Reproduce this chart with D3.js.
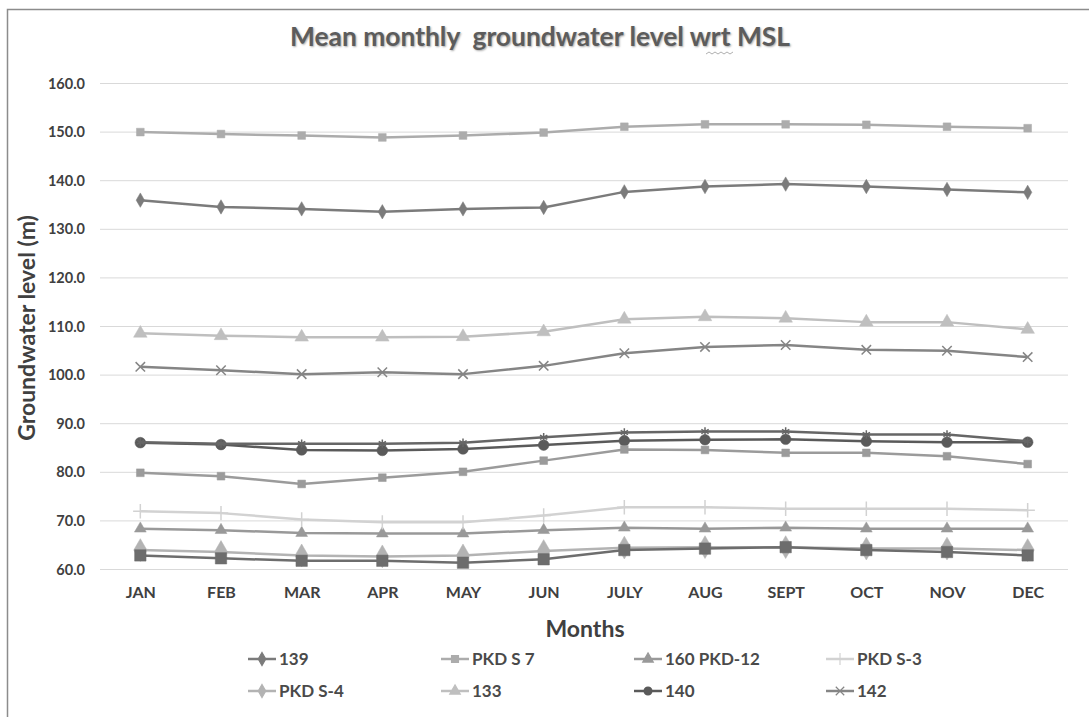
<!DOCTYPE html>
<html><head><meta charset="utf-8">
<script src="https://cdn.jsdelivr.net/npm/d3@7"></script>
<style>
html,body{margin:0;padding:0;background:#fff;}
svg{display:block;font-family:Lato,"Open Sans",sans-serif;}
</style></head>
<body>
<svg id="chart" width="1089" height="717"></svg>
<script>
const months = ["JAN","FEB","MAR","APR","MAY","JUN","JULY","AUG","SEPT","OCT","NOV","DEC"];
const yTicks = [60,70,80,90,100,110,120,130,140,150,160];

const s139     = [136.0,134.6,134.2,133.6,134.2,134.5,137.7,138.8,139.3,138.8,138.2,137.6];
const sPKDS7   = [150.0,149.6,149.3,148.9,149.3,149.9,151.1,151.6,151.6,151.5,151.1,150.8];
const s160PKD12= [68.4,68.1,67.5,67.4,67.4,68.1,68.6,68.4,68.6,68.4,68.4,68.4];
const sPKDS3   = [72.0,71.6,70.3,69.7,69.7,71.1,72.8,72.8,72.5,72.5,72.5,72.2];
const sPKDS4   = [64.0,63.6,62.9,62.7,62.9,63.8,64.5,64.6,64.6,64.3,64.3,64.0];
const s133     = [108.6,108.1,107.8,107.8,107.9,108.9,111.5,112.0,111.7,110.9,110.9,109.4];
const s140     = [86.1,85.7,84.6,84.5,84.8,85.6,86.5,86.7,86.8,86.4,86.2,86.2];
const s142     = [101.7,101.0,100.2,100.6,100.2,101.9,104.5,105.8,106.2,105.2,105.0,103.7];
// series drawn in the plot whose legend entries are cut off in the reference
const sExtraA  = [86.2,85.9,85.9,85.9,86.1,87.2,88.2,88.4,88.4,87.8,87.8,86.4];
const sExtraB  = [79.9,79.2,77.6,78.9,80.1,82.4,84.7,84.6,84.0,84.0,83.3,81.7];
const sExtraC  = [62.9,62.3,61.8,61.8,61.4,62.1,64.0,64.3,64.6,64.0,63.6,62.9];

const seriesNames = ["139","PKD S 7","160 PKD-12","PKD S-3","PKD S-4","133","140","142","extra A","extra B","extra C"];
const seriesValues = [s139,sPKDS7,s160PKD12,sPKDS3,sPKDS4,s133,s140,s142,sExtraA,sExtraB,sExtraC];
const legendCount = 8;

const styles = [
  {color:"#7b7b7b", marker:"diamond", size:60},
  {color:"#acacac", marker:"square", size:60},
  {color:"#999999", marker:"triangle", size:60},
  {color:"#d2d2d2", marker:"plus", size:70},
  {color:"#b3b3b3", marker:"diamond", size:150},
  {color:"#bfbfbf", marker:"triangle", size:80},
  {color:"#5a5a5a", marker:"circle", size:90},
  {color:"#858585", marker:"x", size:60},
  {color:"#666666", marker:"asterisk", size:50},
  {color:"#9b9b9b", marker:"square", size:60},
  {color:"#6d6d6d", marker:"square", size:130}
];

const svg = d3.select("#chart");
const x = d3.scalePoint().domain(months).range([100,1068]).padding(0.5);
const y = d3.scaleLinear().domain([60,160]).range([569.5,83.5]);

// border (left and top visible)
svg.append("path").attr("d","M7.5,717 L7.5,9.5 L1089,9.5").attr("fill","none").attr("stroke","#8c8c8c").attr("stroke-width",1.5);

// gridlines
svg.append("g").selectAll("line").data(yTicks).join("line")
  .attr("x1",100).attr("x2",1068).attr("y1",d=>y(d)).attr("y2",d=>y(d))
  .attr("stroke","#d9d9d9").attr("stroke-width",1);

// y axis labels
const yAxis = d3.axisLeft(y).tickValues(yTicks).tickFormat(d3.format(".1f")).tickSize(0).tickPadding(0);
const gy = svg.append("g").attr("transform","translate(85,0)").call(yAxis);
gy.select(".domain").remove();
gy.selectAll("text").attr("font-size",14.5).attr("font-weight","bold").attr("fill","#404040").attr("font-family","Lato,sans-serif");

// x axis labels
const xAxis = d3.axisBottom(x).tickSize(0).tickPadding(0);
const gx = svg.append("g").attr("transform","translate(0,587)").call(xAxis);
gx.select(".domain").remove();
gx.selectAll("text").attr("font-size",16).attr("font-weight","bold").attr("fill","#404040").attr("font-family","Lato,sans-serif");

// title
svg.append("text").attr("x",540).attr("y",46).attr("text-anchor","middle")
  .attr("font-size",26).attr("font-weight","bold").attr("fill","#5c5c5c")
  .attr("textLength",500).attr("lengthAdjust","spacingAndGlyphs")
  .attr("style","text-shadow:1px 1px 2px #aaa")
  .attr("xml:space","preserve")
  .text("Mean monthly  groundwater level wrt MSL");
// spell-check squiggle under "wrt"
svg.append("path").attr("d",d3.range(0,30,3).map((d,i)=>`${i?"L":"M"}${706+d},${i%2?52:54}`).join(""))
  .attr("fill","none").attr("stroke","#9a9a9a").attr("stroke-width",0.8);

// axis titles
svg.append("text").attr("transform","translate(35,328) rotate(-90)").attr("text-anchor","middle")
  .attr("font-size",23).attr("font-weight","bold").attr("fill","#404040").text("Groundwater level (m)");
svg.append("text").attr("x",585).attr("y",637).attr("text-anchor","middle")
  .attr("font-size",23).attr("font-weight","bold").attr("fill","#404040").text("Months");

function markerPath(type,size){
  const map = {diamond:d3.symbolDiamond,square:d3.symbolSquare,triangle:d3.symbolTriangle,
    circle:d3.symbolCircle,x:d3.symbolX,asterisk:d3.symbolAsterisk,plus:d3.symbolPlus};
  return d3.symbol().type(map[type]).size(size)();
}
const strokeMarkers = new Set(["x","asterisk","plus"]);

const line = d3.line().x((d,i)=>x(months[i])).y(d=>y(d));
const plot = svg.append("g");
seriesValues.forEach((vals,k)=>{
  const st = styles[k];
  const g = plot.append("g");
  g.append("path").attr("d",line(vals)).attr("fill","none").attr("stroke",st.color).attr("stroke-width",2.5).attr("stroke-linejoin","round");
  g.selectAll("path.m").data(vals).join("path").attr("class","m")
    .attr("transform",(d,i)=>`translate(${x(months[i])},${y(d)})`)
    .attr("d",markerPath(st.marker,st.size))
    .attr("fill",strokeMarkers.has(st.marker)?"none":st.color)
    .attr("stroke",st.color).attr("stroke-width",strokeMarkers.has(st.marker)?1.5:0.5);
});

// legend
const lg = svg.append("g");
const colX = [248,441,634,826];
const rowY = [659,691];
for(let k=0;k<legendCount;k++){
  const st = styles[k];
  const lx = colX[k%4], ly = rowY[Math.floor(k/4)];
  const g = lg.append("g").attr("transform",`translate(${lx},${ly})`);
  g.append("line").attr("x1",0).attr("x2",28).attr("y1",0).attr("y2",0).attr("stroke",st.color).attr("stroke-width",2.5);
  g.append("path").attr("transform","translate(14,0)").attr("d",markerPath(st.marker,Math.min(st.size,60)*0.8))
    .attr("fill",strokeMarkers.has(st.marker)?"none":st.color).attr("stroke",st.color).attr("stroke-width",1.2);
  g.append("text").attr("x",31).attr("y",6).attr("font-size",17).attr("font-weight","bold").attr("fill","#4a4a4a").text(seriesNames[k]);
}
</script>
</body></html>
